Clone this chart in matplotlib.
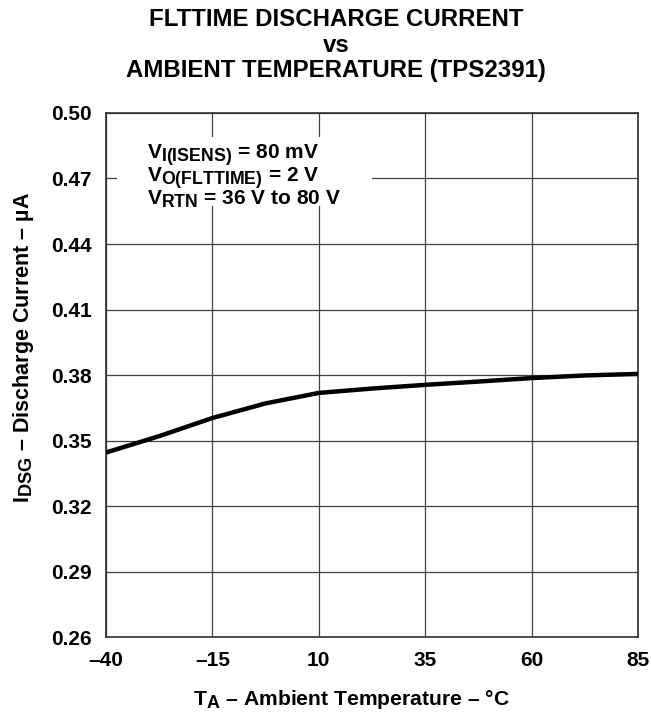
import numpy as np
import matplotlib
matplotlib.use('Agg')
import matplotlib.pyplot as plt
import matplotlib._mathtext as mathtext_internal
from matplotlib.patches import Rectangle

# larger subscripts, closer to the datasheet look
mathtext_internal.SHRINK_FACTOR = 0.85

plt.rcParams['font.family'] = ['Liberation Sans', 'DejaVu Sans']
plt.rcParams['font.weight'] = 'bold'
plt.rcParams['axes.labelweight'] = 'bold'
plt.rcParams['mathtext.fontset'] = 'custom'
plt.rcParams['mathtext.rm'] = 'Liberation Sans:bold'
plt.rcParams['mathtext.it'] = 'Liberation Sans:bold'
plt.rcParams['mathtext.bf'] = 'Liberation Sans:bold'

# Data
temp = [-40, -27.5, -15, -2.5, 10, 22.5, 35, 47.5, 60, 72.5, 85]
current = [0.3445, 0.352, 0.3603, 0.367, 0.3718, 0.3738, 0.3755, 0.377, 0.3786, 0.3798, 0.3805]

x_ticks = [-40, -15, 10, 35, 60, 85]
x_labels = ['\u201340', '\u201315', '10', '35', '60', '85']
y_ticks = [0.26, 0.29, 0.32, 0.35, 0.38, 0.41, 0.44, 0.47, 0.50]

fig = plt.figure(figsize=(6.51, 7.12), dpi=100)
ax = fig.add_axes([0.1628, 0.1053, 0.8172, 0.736])

ax.plot(temp, current, color='black', linewidth=3.2, solid_capstyle='butt', zorder=3)

ax.set_xlim(-40, 85)
ax.set_ylim(0.26, 0.50)
ax.set_xticks(x_ticks)
ax.set_xticklabels(x_labels)
ax.set_yticks(y_ticks)
ax.set_yticklabels([f'{v:.2f}' for v in y_ticks])
ax.tick_params(length=0, labelsize=15)
ax.tick_params(axis='y', pad=10)
ax.tick_params(axis='x', pad=10)
ax.grid(True, color='#404040', linewidth=0.9)
for s in ax.spines.values():
    s.set_linewidth(1.2)
    s.set_color('#303030')

ax.set_xlabel('T$_{A}$ \u2013 Ambient Temperature \u2013 \u00b0C', fontsize=15.2)
ax.xaxis.set_label_coords(0.462, -0.097)
ax.set_ylabel('I$_{DSG}$ \u2013 Discharge Current \u2013 \u00b5A', fontsize=15.5)
ax.yaxis.set_label_coords(-0.131, 0.553)

fig.text(0.516, 1 - 8 / 712, 'FLTTIME DISCHARGE CURRENT\nvs\nAMBIENT TEMPERATURE (TPS2391)',
         fontsize=17.3, fontweight='bold', linespacing=1.15, ha='center', va='top')

# white patch behind the conditions text
ax.add_patch(Rectangle((-37.4, 0.4575), 59.9, 0.0315, facecolor='white',
                       edgecolor='none', zorder=2.5))
ax.text(-30.4, 0.4868,
        'V$_{I(ISENS)}$ = 80 mV\nV$_{O(FLTTIME)}$ = 2 V\nV$_{RTN}$ = 36 V to 80 V',
        fontsize=15, va='top', ha='left', linespacing=0.84, zorder=4)

fig.savefig('out.png', dpi=100)
